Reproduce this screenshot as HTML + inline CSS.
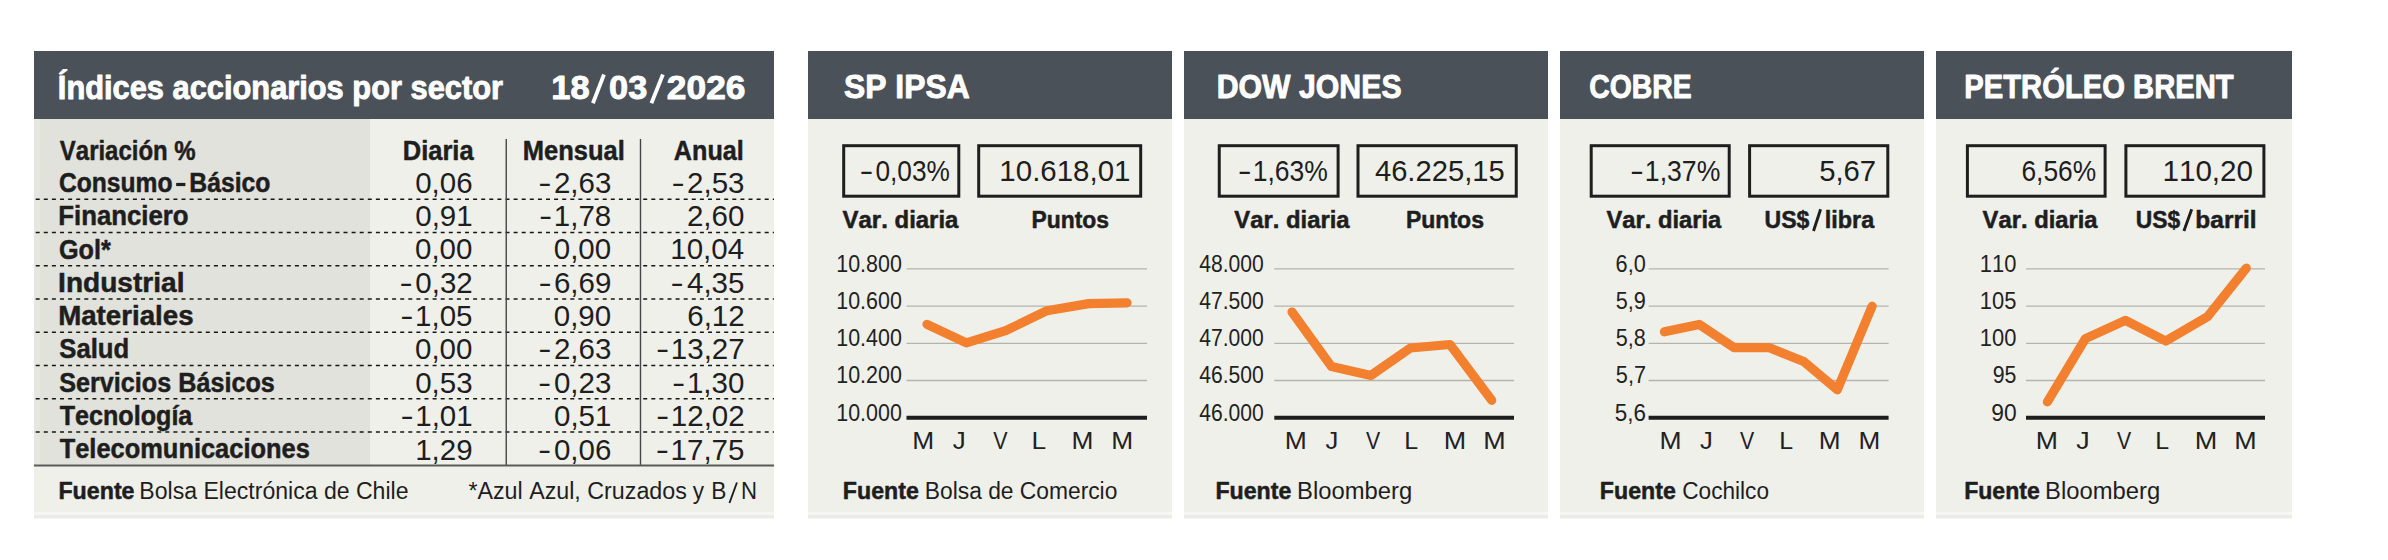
<!DOCTYPE html>
<html><head><meta charset="utf-8"><style>
html,body{margin:0;padding:0;background:#fff;}
body{width:2388px;height:560px;overflow:hidden;}
svg{display:block;font-family:"Liberation Sans",sans-serif;font-kerning:none;}
</style></head><body>
<svg width="2388" height="560" viewBox="0 0 2388 560">
<rect x="0" y="0" width="2388" height="560" fill="#ffffff"/>
<rect x="34" y="51" width="740" height="68" fill="#4a5158" />
<rect x="34" y="119" width="740" height="393.5" fill="#f0f0eb" />
<rect x="34" y="512.5" width="740" height="2.5" fill="#f6f6f4" />
<rect x="34" y="515" width="740" height="3.5" fill="#ebebea" />
<rect x="34" y="119" width="336" height="346" fill="#e2e2dc" />
<rect x="34" y="119" width="6" height="346" fill="#e7e7e2" />
<text x="57.84" y="99.20" font-size="33" font-weight="700" textLength="445.13" lengthAdjust="spacingAndGlyphs" fill="#ffffff" stroke="#ffffff" stroke-width="0.9" stroke-linejoin="round">Índices accionarios por sector</text>
<text x="551.23" y="99.30" font-size="33" font-weight="700" textLength="38.33" lengthAdjust="spacingAndGlyphs" fill="#ffffff" stroke="#ffffff" stroke-width="0.9" stroke-linejoin="round">18</text>
<line x1="592.91" y1="103.3" x2="603.99" y2="74.5" stroke="#ffffff" stroke-width="3.8"/>
<text x="609.14" y="99.30" font-size="33" font-weight="700" textLength="38.20" lengthAdjust="spacingAndGlyphs" fill="#ffffff" stroke="#ffffff" stroke-width="0.9" stroke-linejoin="round">03</text>
<line x1="651.41" y1="103.3" x2="662.89" y2="74.5" stroke="#ffffff" stroke-width="3.8"/>
<text x="666.88" y="99.30" font-size="33" font-weight="700" textLength="78.60" lengthAdjust="spacingAndGlyphs" fill="#ffffff" stroke="#ffffff" stroke-width="0.9" stroke-linejoin="round">2026</text>
<text x="59.84" y="159.50" font-size="27.6" font-weight="700" textLength="135.80" lengthAdjust="spacingAndGlyphs" fill="#1e1e1e" stroke="#1e1e1e" stroke-width="0.5" stroke-linejoin="round">Variación %</text>
<text x="402.80" y="159.50" font-size="27.6" font-weight="700" textLength="70.79" lengthAdjust="spacingAndGlyphs" fill="#1e1e1e" stroke="#1e1e1e" stroke-width="0.5" stroke-linejoin="round">Diaria</text>
<text x="522.79" y="159.50" font-size="27.6" font-weight="700" textLength="102.01" lengthAdjust="spacingAndGlyphs" fill="#1e1e1e" stroke="#1e1e1e" stroke-width="0.5" stroke-linejoin="round">Mensual</text>
<text x="673.87" y="159.50" font-size="27.6" font-weight="700" textLength="69.91" lengthAdjust="spacingAndGlyphs" fill="#1e1e1e" stroke="#1e1e1e" stroke-width="0.5" stroke-linejoin="round">Anual</text>
<text x="58.99" y="192.00" font-size="27.6" font-weight="700" textLength="113.57" lengthAdjust="spacingAndGlyphs" fill="#1e1e1e" stroke="#1e1e1e" stroke-width="0.5" stroke-linejoin="round">Consumo</text>
<rect x="176.2" y="182.9" width="9.2" height="3.2" fill="#1e1e1e" />
<text x="189.35" y="192.00" font-size="27.6" font-weight="700" textLength="81.12" lengthAdjust="spacingAndGlyphs" fill="#1e1e1e" stroke="#1e1e1e" stroke-width="0.5" stroke-linejoin="round">Básico</text>
<text x="415.13" y="192.50" font-size="29.5" font-weight="400" textLength="57.42" lengthAdjust="spacingAndGlyphs" fill="#1e1e1e">0,06</text>
<text x="553.88" y="192.50" font-size="29.5" font-weight="400" textLength="57.42" lengthAdjust="spacingAndGlyphs" fill="#1e1e1e">2,63</text>
<text x="538.30" y="192.50" font-size="29.5" font-weight="400" textLength="13.23" lengthAdjust="spacingAndGlyphs" fill="#1e1e1e">-</text>
<text x="687.08" y="192.50" font-size="29.5" font-weight="400" textLength="57.42" lengthAdjust="spacingAndGlyphs" fill="#1e1e1e">2,53</text>
<text x="671.50" y="192.50" font-size="29.5" font-weight="400" textLength="13.23" lengthAdjust="spacingAndGlyphs" fill="#1e1e1e">-</text>
<text x="58.28" y="225.25" font-size="27.6" font-weight="700" textLength="130.23" lengthAdjust="spacingAndGlyphs" fill="#1e1e1e" stroke="#1e1e1e" stroke-width="0.5" stroke-linejoin="round">Financiero</text>
<text x="415.27" y="225.88" font-size="29.5" font-weight="400" textLength="57.42" lengthAdjust="spacingAndGlyphs" fill="#1e1e1e">0,91</text>
<text x="553.87" y="225.88" font-size="29.5" font-weight="400" textLength="57.42" lengthAdjust="spacingAndGlyphs" fill="#1e1e1e">1,78</text>
<text x="539.05" y="225.88" font-size="29.5" font-weight="400" textLength="13.23" lengthAdjust="spacingAndGlyphs" fill="#1e1e1e">-</text>
<text x="686.94" y="225.88" font-size="29.5" font-weight="400" textLength="57.42" lengthAdjust="spacingAndGlyphs" fill="#1e1e1e">2,60</text>
<text x="58.97" y="258.50" font-size="27.6" font-weight="700" textLength="51.81" lengthAdjust="spacingAndGlyphs" fill="#1e1e1e" stroke="#1e1e1e" stroke-width="0.5" stroke-linejoin="round">Gol*</text>
<text x="414.99" y="259.25" font-size="29.5" font-weight="400" textLength="57.42" lengthAdjust="spacingAndGlyphs" fill="#1e1e1e">0,00</text>
<text x="553.74" y="259.25" font-size="29.5" font-weight="400" textLength="57.42" lengthAdjust="spacingAndGlyphs" fill="#1e1e1e">0,00</text>
<text x="670.24" y="259.25" font-size="29.5" font-weight="400" textLength="73.82" lengthAdjust="spacingAndGlyphs" fill="#1e1e1e">10,04</text>
<text x="58.12" y="291.75" font-size="27.6" font-weight="700" textLength="126.37" lengthAdjust="spacingAndGlyphs" fill="#1e1e1e" stroke="#1e1e1e" stroke-width="0.5" stroke-linejoin="round">Industrial</text>
<text x="415.32" y="292.62" font-size="29.5" font-weight="400" textLength="57.42" lengthAdjust="spacingAndGlyphs" fill="#1e1e1e">0,32</text>
<text x="399.41" y="292.62" font-size="29.5" font-weight="400" textLength="13.23" lengthAdjust="spacingAndGlyphs" fill="#1e1e1e">-</text>
<text x="553.98" y="292.62" font-size="29.5" font-weight="400" textLength="57.42" lengthAdjust="spacingAndGlyphs" fill="#1e1e1e">6,69</text>
<text x="538.41" y="292.62" font-size="29.5" font-weight="400" textLength="13.23" lengthAdjust="spacingAndGlyphs" fill="#1e1e1e">-</text>
<text x="687.02" y="292.62" font-size="29.5" font-weight="400" textLength="57.42" lengthAdjust="spacingAndGlyphs" fill="#1e1e1e">4,35</text>
<text x="670.63" y="292.62" font-size="29.5" font-weight="400" textLength="13.23" lengthAdjust="spacingAndGlyphs" fill="#1e1e1e">-</text>
<text x="58.15" y="325.00" font-size="27.6" font-weight="700" textLength="135.49" lengthAdjust="spacingAndGlyphs" fill="#1e1e1e" stroke="#1e1e1e" stroke-width="0.5" stroke-linejoin="round">Materiales</text>
<text x="415.07" y="326.00" font-size="29.5" font-weight="400" textLength="57.42" lengthAdjust="spacingAndGlyphs" fill="#1e1e1e">1,05</text>
<text x="400.25" y="326.00" font-size="29.5" font-weight="400" textLength="13.23" lengthAdjust="spacingAndGlyphs" fill="#1e1e1e">-</text>
<text x="553.74" y="326.00" font-size="29.5" font-weight="400" textLength="57.42" lengthAdjust="spacingAndGlyphs" fill="#1e1e1e">0,90</text>
<text x="687.27" y="326.00" font-size="29.5" font-weight="400" textLength="57.42" lengthAdjust="spacingAndGlyphs" fill="#1e1e1e">6,12</text>
<text x="59.26" y="358.25" font-size="27.6" font-weight="700" textLength="69.93" lengthAdjust="spacingAndGlyphs" fill="#1e1e1e" stroke="#1e1e1e" stroke-width="0.5" stroke-linejoin="round">Salud</text>
<text x="414.99" y="359.38" font-size="29.5" font-weight="400" textLength="57.42" lengthAdjust="spacingAndGlyphs" fill="#1e1e1e">0,00</text>
<text x="553.88" y="359.38" font-size="29.5" font-weight="400" textLength="57.42" lengthAdjust="spacingAndGlyphs" fill="#1e1e1e">2,63</text>
<text x="538.30" y="359.38" font-size="29.5" font-weight="400" textLength="13.23" lengthAdjust="spacingAndGlyphs" fill="#1e1e1e">-</text>
<text x="670.86" y="359.38" font-size="29.5" font-weight="400" textLength="73.82" lengthAdjust="spacingAndGlyphs" fill="#1e1e1e">13,27</text>
<text x="656.04" y="359.38" font-size="29.5" font-weight="400" textLength="13.23" lengthAdjust="spacingAndGlyphs" fill="#1e1e1e">-</text>
<text x="59.27" y="391.50" font-size="27.6" font-weight="700" textLength="215.51" lengthAdjust="spacingAndGlyphs" fill="#1e1e1e" stroke="#1e1e1e" stroke-width="0.5" stroke-linejoin="round">Servicios Básicos</text>
<text x="415.13" y="392.75" font-size="29.5" font-weight="400" textLength="57.42" lengthAdjust="spacingAndGlyphs" fill="#1e1e1e">0,53</text>
<text x="553.88" y="392.75" font-size="29.5" font-weight="400" textLength="57.42" lengthAdjust="spacingAndGlyphs" fill="#1e1e1e">0,23</text>
<text x="537.97" y="392.75" font-size="29.5" font-weight="400" textLength="13.23" lengthAdjust="spacingAndGlyphs" fill="#1e1e1e">-</text>
<text x="686.94" y="392.75" font-size="29.5" font-weight="400" textLength="57.42" lengthAdjust="spacingAndGlyphs" fill="#1e1e1e">1,30</text>
<text x="672.12" y="392.75" font-size="29.5" font-weight="400" textLength="13.23" lengthAdjust="spacingAndGlyphs" fill="#1e1e1e">-</text>
<text x="59.72" y="424.75" font-size="27.6" font-weight="700" textLength="132.62" lengthAdjust="spacingAndGlyphs" fill="#1e1e1e" stroke="#1e1e1e" stroke-width="0.5" stroke-linejoin="round">Tecnología</text>
<text x="415.27" y="426.12" font-size="29.5" font-weight="400" textLength="57.42" lengthAdjust="spacingAndGlyphs" fill="#1e1e1e">1,01</text>
<text x="400.46" y="426.12" font-size="29.5" font-weight="400" textLength="13.23" lengthAdjust="spacingAndGlyphs" fill="#1e1e1e">-</text>
<text x="554.02" y="426.12" font-size="29.5" font-weight="400" textLength="57.42" lengthAdjust="spacingAndGlyphs" fill="#1e1e1e">0,51</text>
<text x="670.86" y="426.12" font-size="29.5" font-weight="400" textLength="73.82" lengthAdjust="spacingAndGlyphs" fill="#1e1e1e">12,02</text>
<text x="656.04" y="426.12" font-size="29.5" font-weight="400" textLength="13.23" lengthAdjust="spacingAndGlyphs" fill="#1e1e1e">-</text>
<text x="59.71" y="458.00" font-size="27.6" font-weight="700" textLength="250.08" lengthAdjust="spacingAndGlyphs" fill="#1e1e1e" stroke="#1e1e1e" stroke-width="0.5" stroke-linejoin="round">Telecomunicaciones</text>
<text x="415.23" y="459.50" font-size="29.5" font-weight="400" textLength="57.42" lengthAdjust="spacingAndGlyphs" fill="#1e1e1e">1,29</text>
<text x="553.88" y="459.50" font-size="29.5" font-weight="400" textLength="57.42" lengthAdjust="spacingAndGlyphs" fill="#1e1e1e">0,06</text>
<text x="537.97" y="459.50" font-size="29.5" font-weight="400" textLength="13.23" lengthAdjust="spacingAndGlyphs" fill="#1e1e1e">-</text>
<text x="670.62" y="459.50" font-size="29.5" font-weight="400" textLength="73.82" lengthAdjust="spacingAndGlyphs" fill="#1e1e1e">17,75</text>
<text x="655.80" y="459.50" font-size="29.5" font-weight="400" textLength="13.23" lengthAdjust="spacingAndGlyphs" fill="#1e1e1e">-</text>
<line x1="35.7" y1="199.3" x2="774" y2="199.3" stroke="#161616" stroke-width="1.4" stroke-dasharray="4 4.1"/>
<line x1="35.7" y1="232.55" x2="774" y2="232.55" stroke="#161616" stroke-width="1.4" stroke-dasharray="4 4.1"/>
<line x1="35.7" y1="265.8" x2="774" y2="265.8" stroke="#161616" stroke-width="1.4" stroke-dasharray="4 4.1"/>
<line x1="35.7" y1="299.05" x2="774" y2="299.05" stroke="#161616" stroke-width="1.4" stroke-dasharray="4 4.1"/>
<line x1="35.7" y1="332.3" x2="774" y2="332.3" stroke="#161616" stroke-width="1.4" stroke-dasharray="4 4.1"/>
<line x1="35.7" y1="365.55" x2="774" y2="365.55" stroke="#161616" stroke-width="1.4" stroke-dasharray="4 4.1"/>
<line x1="35.7" y1="398.8" x2="774" y2="398.8" stroke="#161616" stroke-width="1.4" stroke-dasharray="4 4.1"/>
<line x1="35.7" y1="432.05" x2="774" y2="432.05" stroke="#161616" stroke-width="1.4" stroke-dasharray="4 4.1"/>
<line x1="506.25" y1="139" x2="506.25" y2="465" stroke="#454545" stroke-width="1.4" />
<line x1="640.5" y1="139" x2="640.5" y2="465" stroke="#454545" stroke-width="1.4" />
<line x1="34" y1="465.5" x2="774" y2="465.5" stroke="#5a5a58" stroke-width="2" />
<text x="58.45" y="499.30" font-size="23.3" font-weight="700" textLength="76.10" lengthAdjust="spacingAndGlyphs" fill="#1e1e1e" stroke="#1e1e1e" stroke-width="0.5" stroke-linejoin="round">Fuente</text>
<text x="139.36" y="499.30" font-size="23.3" font-weight="400" textLength="269.17" lengthAdjust="spacingAndGlyphs" fill="#1e1e1e">Bolsa Electrónica de Chile</text>
<text x="468.38" y="499.30" font-size="23.3" font-weight="400" textLength="218.47" lengthAdjust="spacingAndGlyphs" fill="#1e1e1e">*Azul Azul, Cruzados</text>
<text x="692.74" y="499.30" font-size="23.3" font-weight="400" textLength="11.30" lengthAdjust="spacingAndGlyphs" fill="#1e1e1e">y</text>
<text x="711.24" y="499.30" font-size="23.3" font-weight="400" textLength="15.16" lengthAdjust="spacingAndGlyphs" fill="#1e1e1e">B</text>
<line x1="729.46" y1="503" x2="736.94" y2="482.5" stroke="#1e1e1e" stroke-width="1.9"/>
<text x="740.98" y="499.30" font-size="23.3" font-weight="400" textLength="16.03" lengthAdjust="spacingAndGlyphs" fill="#1e1e1e">N</text>
<rect x="808" y="51" width="364" height="68" fill="#4a5158" />
<rect x="808" y="119" width="364" height="393.5" fill="#f0f0eb" />
<rect x="808" y="512.5" width="364" height="2.5" fill="#f6f6f4" />
<rect x="808" y="515" width="364" height="3.5" fill="#ebebea" />
<text x="844.08" y="97.70" font-size="33" font-weight="700" textLength="125.56" lengthAdjust="spacingAndGlyphs" fill="#ffffff" stroke="#ffffff" stroke-width="0.9" stroke-linejoin="round">SP IPSA</text>
<rect x="843.7" y="145.7" width="115.09999999999991" height="50.5" fill="none" stroke="#1e1e1e" stroke-width="3"/>
<rect x="978.7" y="145.7" width="162.0" height="50.5" fill="none" stroke="#1e1e1e" stroke-width="3"/>
<text x="875.47" y="181.00" font-size="30" font-weight="400" textLength="74.46" lengthAdjust="spacingAndGlyphs" fill="#1e1e1e">0,03%</text>
<text x="859.64" y="181.00" font-size="30" font-weight="400" textLength="13.91" lengthAdjust="spacingAndGlyphs" fill="#1e1e1e">-</text>
<text x="999.36" y="181.00" font-size="30" font-weight="400" textLength="131.08" lengthAdjust="spacingAndGlyphs" fill="#1e1e1e">10.618,01</text>
<text x="842.54" y="227.80" font-size="23.5" font-weight="700" textLength="115.91" lengthAdjust="spacingAndGlyphs" fill="#1e1e1e" stroke="#1e1e1e" stroke-width="0.5" stroke-linejoin="round">Var. diaria</text>
<text x="1031.47" y="227.80" font-size="23.5" font-weight="700" textLength="77.47" lengthAdjust="spacingAndGlyphs" fill="#1e1e1e" stroke="#1e1e1e" stroke-width="0.5" stroke-linejoin="round">Puntos</text>
<line x1="906.5" y1="268.9" x2="1147" y2="268.9" stroke="#b4b4ae" stroke-width="1.3" />
<line x1="906.5" y1="306.09999999999997" x2="1147" y2="306.09999999999997" stroke="#b4b4ae" stroke-width="1.3" />
<line x1="906.5" y1="343.29999999999995" x2="1147" y2="343.29999999999995" stroke="#b4b4ae" stroke-width="1.3" />
<line x1="906.5" y1="380.5" x2="1147" y2="380.5" stroke="#b4b4ae" stroke-width="1.3" />
<line x1="906.5" y1="417.7" x2="1147" y2="417.7" stroke="#1e1e1e" stroke-width="4" />
<text x="836.27" y="272.00" font-size="24" font-weight="400" textLength="65.57" lengthAdjust="spacingAndGlyphs" fill="#222">10.800</text>
<text x="836.27" y="309.15" font-size="24" font-weight="400" textLength="65.57" lengthAdjust="spacingAndGlyphs" fill="#222">10.600</text>
<text x="836.27" y="346.30" font-size="24" font-weight="400" textLength="65.57" lengthAdjust="spacingAndGlyphs" fill="#222">10.400</text>
<text x="836.27" y="383.45" font-size="24" font-weight="400" textLength="65.57" lengthAdjust="spacingAndGlyphs" fill="#222">10.200</text>
<text x="836.27" y="420.60" font-size="24" font-weight="400" textLength="65.57" lengthAdjust="spacingAndGlyphs" fill="#222">10.000</text>
<text x="912.34" y="449.40" font-size="24.7" font-weight="400" textLength="21.92" lengthAdjust="spacingAndGlyphs" fill="#222">M</text>
<text x="952.80" y="449.40" font-size="24.7" font-weight="400" textLength="12.92" lengthAdjust="spacingAndGlyphs" fill="#222">J</text>
<text x="993.31" y="449.40" font-size="24.7" font-weight="400" textLength="14.29" lengthAdjust="spacingAndGlyphs" fill="#222">V</text>
<text x="1031.44" y="449.40" font-size="24.7" font-weight="400" textLength="14.63" lengthAdjust="spacingAndGlyphs" fill="#222">L</text>
<text x="1071.64" y="449.40" font-size="24.7" font-weight="400" textLength="21.92" lengthAdjust="spacingAndGlyphs" fill="#222">M</text>
<text x="1111.34" y="449.40" font-size="24.7" font-weight="400" textLength="21.92" lengthAdjust="spacingAndGlyphs" fill="#222">M</text>
<polyline points="927,324.3 966.4,342.9 1005.7,330.7 1047,310.7 1088.6,303.6 1127,302.9" fill="none" stroke="#f2802e" stroke-width="9.2" stroke-linejoin="round" stroke-linecap="round"/>
<text x="842.85" y="499.30" font-size="23.3" font-weight="700" textLength="75.94" lengthAdjust="spacingAndGlyphs" fill="#1e1e1e" stroke="#1e1e1e" stroke-width="0.5" stroke-linejoin="round">Fuente</text>
<text x="924.83" y="499.30" font-size="23.3" font-weight="400" textLength="192.53" lengthAdjust="spacingAndGlyphs" fill="#1e1e1e">Bolsa de Comercio</text>
<rect x="1184" y="51" width="364" height="68" fill="#4a5158" />
<rect x="1184" y="119" width="364" height="393.5" fill="#f0f0eb" />
<rect x="1184" y="512.5" width="364" height="2.5" fill="#f6f6f4" />
<rect x="1184" y="515" width="364" height="3.5" fill="#ebebea" />
<text x="1216.73" y="97.70" font-size="33" font-weight="700" textLength="184.85" lengthAdjust="spacingAndGlyphs" fill="#ffffff" stroke="#ffffff" stroke-width="0.9" stroke-linejoin="round">DOW JONES</text>
<rect x="1219.25" y="145.7" width="118.84999999999991" height="50.5" fill="none" stroke="#1e1e1e" stroke-width="3"/>
<rect x="1358.0" y="145.7" width="158.25" height="50.5" fill="none" stroke="#1e1e1e" stroke-width="3"/>
<text x="1252.68" y="181.00" font-size="30" font-weight="400" textLength="75.16" lengthAdjust="spacingAndGlyphs" fill="#1e1e1e">1,63%</text>
<text x="1237.84" y="181.00" font-size="30" font-weight="400" textLength="13.91" lengthAdjust="spacingAndGlyphs" fill="#1e1e1e">-</text>
<text x="1374.93" y="181.00" font-size="30" font-weight="400" textLength="129.79" lengthAdjust="spacingAndGlyphs" fill="#1e1e1e">46.225,15</text>
<text x="1234.24" y="227.80" font-size="23.5" font-weight="700" textLength="115.36" lengthAdjust="spacingAndGlyphs" fill="#1e1e1e" stroke="#1e1e1e" stroke-width="0.5" stroke-linejoin="round">Var. diaria</text>
<text x="1405.96" y="227.80" font-size="23.5" font-weight="700" textLength="77.98" lengthAdjust="spacingAndGlyphs" fill="#1e1e1e" stroke="#1e1e1e" stroke-width="0.5" stroke-linejoin="round">Puntos</text>
<line x1="1274.3" y1="268.9" x2="1514" y2="268.9" stroke="#b4b4ae" stroke-width="1.3" />
<line x1="1274.3" y1="306.09999999999997" x2="1514" y2="306.09999999999997" stroke="#b4b4ae" stroke-width="1.3" />
<line x1="1274.3" y1="343.29999999999995" x2="1514" y2="343.29999999999995" stroke="#b4b4ae" stroke-width="1.3" />
<line x1="1274.3" y1="380.5" x2="1514" y2="380.5" stroke="#b4b4ae" stroke-width="1.3" />
<line x1="1274.3" y1="417.7" x2="1514" y2="417.7" stroke="#1e1e1e" stroke-width="4" />
<text x="1199.22" y="272.00" font-size="24" font-weight="400" textLength="64.51" lengthAdjust="spacingAndGlyphs" fill="#222">48.000</text>
<text x="1199.22" y="309.15" font-size="24" font-weight="400" textLength="64.51" lengthAdjust="spacingAndGlyphs" fill="#222">47.500</text>
<text x="1199.22" y="346.30" font-size="24" font-weight="400" textLength="64.51" lengthAdjust="spacingAndGlyphs" fill="#222">47.000</text>
<text x="1199.22" y="383.45" font-size="24" font-weight="400" textLength="64.51" lengthAdjust="spacingAndGlyphs" fill="#222">46.500</text>
<text x="1199.22" y="420.60" font-size="24" font-weight="400" textLength="64.51" lengthAdjust="spacingAndGlyphs" fill="#222">46.000</text>
<text x="1284.73" y="449.40" font-size="24.7" font-weight="400" textLength="22.04" lengthAdjust="spacingAndGlyphs" fill="#222">M</text>
<text x="1325.40" y="449.40" font-size="24.7" font-weight="400" textLength="12.80" lengthAdjust="spacingAndGlyphs" fill="#222">J</text>
<text x="1365.91" y="449.40" font-size="24.7" font-weight="400" textLength="14.19" lengthAdjust="spacingAndGlyphs" fill="#222">V</text>
<text x="1404.15" y="449.40" font-size="24.7" font-weight="400" textLength="13.87" lengthAdjust="spacingAndGlyphs" fill="#222">L</text>
<text x="1443.69" y="449.40" font-size="24.7" font-weight="400" textLength="22.41" lengthAdjust="spacingAndGlyphs" fill="#222">M</text>
<text x="1483.39" y="449.40" font-size="24.7" font-weight="400" textLength="22.41" lengthAdjust="spacingAndGlyphs" fill="#222">M</text>
<polyline points="1292,312 1331.5,366.6 1371,375.4 1410.4,348 1450,344.5 1491.7,400.3" fill="none" stroke="#f2802e" stroke-width="9.2" stroke-linejoin="round" stroke-linecap="round"/>
<text x="1215.45" y="499.30" font-size="23.3" font-weight="700" textLength="75.94" lengthAdjust="spacingAndGlyphs" fill="#1e1e1e" stroke="#1e1e1e" stroke-width="0.5" stroke-linejoin="round">Fuente</text>
<text x="1297.05" y="499.30" font-size="23.3" font-weight="400" textLength="115.09" lengthAdjust="spacingAndGlyphs" fill="#1e1e1e">Bloomberg</text>
<rect x="1560" y="51" width="364" height="68" fill="#4a5158" />
<rect x="1560" y="119" width="364" height="393.5" fill="#f0f0eb" />
<rect x="1560" y="512.5" width="364" height="2.5" fill="#f6f6f4" />
<rect x="1560" y="515" width="364" height="3.5" fill="#ebebea" />
<text x="1589.24" y="97.70" font-size="33" font-weight="700" textLength="102.47" lengthAdjust="spacingAndGlyphs" fill="#ffffff" stroke="#ffffff" stroke-width="0.9" stroke-linejoin="round">COBRE</text>
<rect x="1591.2" y="145.7" width="138.0" height="50.5" fill="none" stroke="#1e1e1e" stroke-width="3"/>
<rect x="1749.6" y="145.7" width="138.20000000000005" height="50.5" fill="none" stroke="#1e1e1e" stroke-width="3"/>
<text x="1644.87" y="181.00" font-size="30" font-weight="400" textLength="75.48" lengthAdjust="spacingAndGlyphs" fill="#1e1e1e">1,37%</text>
<text x="1630.04" y="181.00" font-size="30" font-weight="400" textLength="13.91" lengthAdjust="spacingAndGlyphs" fill="#1e1e1e">-</text>
<text x="1819.13" y="181.00" font-size="30" font-weight="400" textLength="57.05" lengthAdjust="spacingAndGlyphs" fill="#1e1e1e">5,67</text>
<text x="1606.44" y="227.80" font-size="23.5" font-weight="700" textLength="114.91" lengthAdjust="spacingAndGlyphs" fill="#1e1e1e" stroke="#1e1e1e" stroke-width="0.5" stroke-linejoin="round">Var. diaria</text>
<text x="1764.52" y="227.80" font-size="23.5" font-weight="700" textLength="44.81" lengthAdjust="spacingAndGlyphs" fill="#1e1e1e" stroke="#1e1e1e" stroke-width="0.5" stroke-linejoin="round">US$</text>
<line x1="1813.51" y1="231" x2="1820.60" y2="209.3" stroke="#1e1e1e" stroke-width="2.9"/>
<text x="1824.76" y="227.80" font-size="23.5" font-weight="700" textLength="49.49" lengthAdjust="spacingAndGlyphs" fill="#1e1e1e" stroke="#1e1e1e" stroke-width="0.5" stroke-linejoin="round">libra</text>
<line x1="1648.6" y1="268.9" x2="1888.6" y2="268.9" stroke="#b4b4ae" stroke-width="1.3" />
<line x1="1648.6" y1="306.09999999999997" x2="1888.6" y2="306.09999999999997" stroke="#b4b4ae" stroke-width="1.3" />
<line x1="1648.6" y1="343.29999999999995" x2="1888.6" y2="343.29999999999995" stroke="#b4b4ae" stroke-width="1.3" />
<line x1="1648.6" y1="380.5" x2="1888.6" y2="380.5" stroke="#b4b4ae" stroke-width="1.3" />
<line x1="1648.6" y1="417.7" x2="1888.6" y2="417.7" stroke="#1e1e1e" stroke-width="4" />
<text x="1615.60" y="272.00" font-size="24" font-weight="400" textLength="30.15" lengthAdjust="spacingAndGlyphs" fill="#222">6,0</text>
<text x="1615.83" y="309.15" font-size="24" font-weight="400" textLength="30.09" lengthAdjust="spacingAndGlyphs" fill="#222">5,9</text>
<text x="1615.84" y="346.30" font-size="24" font-weight="400" textLength="30.00" lengthAdjust="spacingAndGlyphs" fill="#222">5,8</text>
<text x="1615.83" y="383.45" font-size="24" font-weight="400" textLength="30.16" lengthAdjust="spacingAndGlyphs" fill="#222">5,7</text>
<text x="1614.80" y="420.60" font-size="24" font-weight="400" textLength="31.18" lengthAdjust="spacingAndGlyphs" fill="#222">5,6</text>
<text x="1659.43" y="449.40" font-size="24.7" font-weight="400" textLength="22.04" lengthAdjust="spacingAndGlyphs" fill="#222">M</text>
<text x="1699.90" y="449.40" font-size="24.7" font-weight="400" textLength="12.80" lengthAdjust="spacingAndGlyphs" fill="#222">J</text>
<text x="1739.91" y="449.40" font-size="24.7" font-weight="400" textLength="14.19" lengthAdjust="spacingAndGlyphs" fill="#222">V</text>
<text x="1779.15" y="449.40" font-size="24.7" font-weight="400" textLength="13.87" lengthAdjust="spacingAndGlyphs" fill="#222">L</text>
<text x="1818.75" y="449.40" font-size="24.7" font-weight="400" textLength="21.79" lengthAdjust="spacingAndGlyphs" fill="#222">M</text>
<text x="1858.45" y="449.40" font-size="24.7" font-weight="400" textLength="21.79" lengthAdjust="spacingAndGlyphs" fill="#222">M</text>
<polyline points="1664.4,331.8 1699.2,324.4 1734,347.6 1768.8,347.6 1803.7,361.5 1837.3,389.8 1872.1,306.2" fill="none" stroke="#f2802e" stroke-width="9.2" stroke-linejoin="round" stroke-linecap="round"/>
<text x="1599.85" y="499.30" font-size="23.3" font-weight="700" textLength="75.94" lengthAdjust="spacingAndGlyphs" fill="#1e1e1e" stroke="#1e1e1e" stroke-width="0.5" stroke-linejoin="round">Fuente</text>
<text x="1682.25" y="499.30" font-size="23.3" font-weight="400" textLength="86.70" lengthAdjust="spacingAndGlyphs" fill="#1e1e1e">Cochilco</text>
<rect x="1936" y="51" width="356" height="68" fill="#4a5158" />
<rect x="1936" y="119" width="356" height="393.5" fill="#f0f0eb" />
<rect x="1936" y="512.5" width="356" height="2.5" fill="#f6f6f4" />
<rect x="1936" y="515" width="356" height="3.5" fill="#ebebea" />
<text x="1964.35" y="97.70" font-size="33" font-weight="700" textLength="269.27" lengthAdjust="spacingAndGlyphs" fill="#ffffff" stroke="#ffffff" stroke-width="0.9" stroke-linejoin="round">PETRÓLEO BRENT</text>
<rect x="1967.4" y="145.7" width="137.69999999999982" height="50.5" fill="none" stroke="#1e1e1e" stroke-width="3"/>
<rect x="2125.9" y="145.7" width="138.0" height="50.5" fill="none" stroke="#1e1e1e" stroke-width="3"/>
<text x="2021.46" y="181.00" font-size="30" font-weight="400" textLength="74.78" lengthAdjust="spacingAndGlyphs" fill="#1e1e1e">6,56%</text>
<text x="2162.44" y="181.00" font-size="30" font-weight="400" textLength="90.61" lengthAdjust="spacingAndGlyphs" fill="#1e1e1e">110,20</text>
<text x="1982.64" y="227.80" font-size="23.5" font-weight="700" textLength="114.96" lengthAdjust="spacingAndGlyphs" fill="#1e1e1e" stroke="#1e1e1e" stroke-width="0.5" stroke-linejoin="round">Var. diaria</text>
<text x="2135.83" y="227.80" font-size="23.5" font-weight="700" textLength="44.39" lengthAdjust="spacingAndGlyphs" fill="#1e1e1e" stroke="#1e1e1e" stroke-width="0.5" stroke-linejoin="round">US$</text>
<line x1="2183.90" y1="231" x2="2191.70" y2="209.3" stroke="#1e1e1e" stroke-width="2.9"/>
<text x="2195.39" y="227.80" font-size="23.5" font-weight="700" textLength="61.14" lengthAdjust="spacingAndGlyphs" fill="#1e1e1e" stroke="#1e1e1e" stroke-width="0.5" stroke-linejoin="round">barril</text>
<line x1="2026" y1="268.9" x2="2265" y2="268.9" stroke="#b4b4ae" stroke-width="1.3" />
<line x1="2026" y1="306.09999999999997" x2="2265" y2="306.09999999999997" stroke="#b4b4ae" stroke-width="1.3" />
<line x1="2026" y1="343.29999999999995" x2="2265" y2="343.29999999999995" stroke="#b4b4ae" stroke-width="1.3" />
<line x1="2026" y1="380.5" x2="2265" y2="380.5" stroke="#b4b4ae" stroke-width="1.3" />
<line x1="2026" y1="417.7" x2="2265" y2="417.7" stroke="#1e1e1e" stroke-width="4" />
<text x="1979.83" y="272.00" font-size="24" font-weight="400" textLength="36.52" lengthAdjust="spacingAndGlyphs" fill="#222">110</text>
<text x="1979.83" y="309.15" font-size="24" font-weight="400" textLength="36.59" lengthAdjust="spacingAndGlyphs" fill="#222">105</text>
<text x="1979.83" y="346.30" font-size="24" font-weight="400" textLength="36.52" lengthAdjust="spacingAndGlyphs" fill="#222">100</text>
<text x="1992.70" y="383.45" font-size="24" font-weight="400" textLength="23.69" lengthAdjust="spacingAndGlyphs" fill="#222">95</text>
<text x="1991.23" y="420.60" font-size="24" font-weight="400" textLength="25.36" lengthAdjust="spacingAndGlyphs" fill="#222">90</text>
<text x="2035.72" y="449.40" font-size="24.7" font-weight="400" textLength="22.17" lengthAdjust="spacingAndGlyphs" fill="#222">M</text>
<text x="2076.38" y="449.40" font-size="24.7" font-weight="400" textLength="13.41" lengthAdjust="spacingAndGlyphs" fill="#222">J</text>
<text x="2116.91" y="449.40" font-size="24.7" font-weight="400" textLength="14.19" lengthAdjust="spacingAndGlyphs" fill="#222">V</text>
<text x="2155.15" y="449.40" font-size="24.7" font-weight="400" textLength="13.87" lengthAdjust="spacingAndGlyphs" fill="#222">L</text>
<text x="2194.68" y="449.40" font-size="24.7" font-weight="400" textLength="22.54" lengthAdjust="spacingAndGlyphs" fill="#222">M</text>
<text x="2234.39" y="449.40" font-size="24.7" font-weight="400" textLength="22.41" lengthAdjust="spacingAndGlyphs" fill="#222">M</text>
<polyline points="2047.4,401.8 2085.4,338.6 2125.4,320.4 2165.8,341 2207.4,316.8 2246.3,268.2" fill="none" stroke="#f2802e" stroke-width="9.2" stroke-linejoin="round" stroke-linecap="round"/>
<text x="1964.16" y="499.30" font-size="23.3" font-weight="700" textLength="75.63" lengthAdjust="spacingAndGlyphs" fill="#1e1e1e" stroke="#1e1e1e" stroke-width="0.5" stroke-linejoin="round">Fuente</text>
<text x="2045.05" y="499.30" font-size="23.3" font-weight="400" textLength="115.09" lengthAdjust="spacingAndGlyphs" fill="#1e1e1e">Bloomberg</text>
</svg></body></html>
